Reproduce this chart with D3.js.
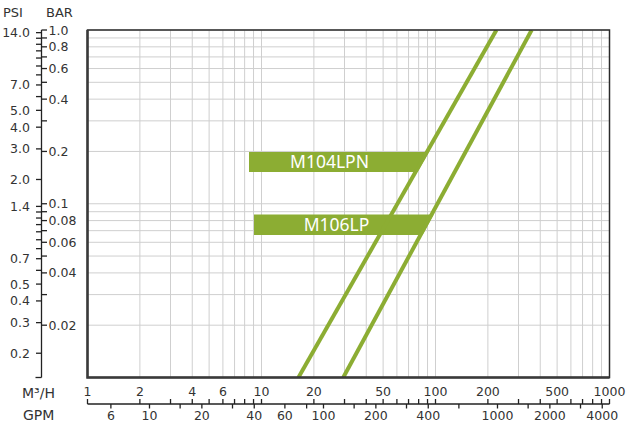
<!DOCTYPE html>
<html>
<head>
<meta charset="utf-8">
<script src="https://cdn.jsdelivr.net/npm/d3@7"></script>
<style>
    body { margin: 0; background: #fff; }
    text { font-family: 'DejaVu Sans', sans-serif; fill: #333; }
</style>
</head>
<body>
<script>
// Chart data
let m3hLabels = [1, 2, 4, 6, 10, 20, 50, 100, 200, 500, 1000];
let gpmTicks = [6, 10, 15, 20, 30, 40, 60, 80, 100, 150, 200, 300, 400, 600, 1000, 1500, 2000, 3000, 4000];
let gpmLabels = [6, 10, 20, 40, 60, 100, 200, 400, 1000, 2000, 4000];
let barLabels = [1.0, 0.8, 0.6, 0.4, 0.2, 0.1, 0.08, 0.06, 0.04, 0.02];
let psiTicks = [14, 13, 12, 11, 10, 9, 8, 7, 6, 5, 4, 3, 2, 1.4, 1.3, 1.2, 1.1, 1.0, 0.9, 0.8, 0.7, 0.6, 0.5, 0.4, 0.3, 0.2];
let psiLabels = [14.0, 7.0, 5.0, 4.0, 3.0, 2.0, 1.4, 0.7, 0.5, 0.4, 0.3, 0.2];

let models = ['M104LPN', 'M106LP'];
let flowM104LPN = [16.3, 224];   // m3/h
let barM104LPN = [0.01, 1.0];
let flowM106LP = [29.5, 357];
let barM106LP = [0.01, 1.0];

let GPM_PER_M3H = 4.403;
let PSI_PER_BAR = 14.5;

let green = '#8cad33';
let tickFont = '12.5px';

let width = 628, height = 423;
let plot = {left: 87.5, right: 609.5, top: 30, bottom: 377.5};

let svg = d3.select('body').append('svg')
    .attr('width', width)
    .attr('height', height);

let x = d3.scaleLog().domain([1, 1000]).range([plot.left, plot.right]);
let xGpm = d3.scaleLog().domain([GPM_PER_M3H, 1000 * GPM_PER_M3H]).range([plot.left, plot.right]);
let y = d3.scaleLog().domain([0.01, 1]).range([plot.bottom, plot.top]);
let yPsi = d3.scaleLog().domain([0.01 * PSI_PER_BAR, PSI_PER_BAR]).range([plot.bottom, plot.top]);

// 1..9 per decade
let decadeTicks = (lo, hi) => {
    let out = [];
    for (let d = lo; d < hi; d *= 10) {
        for (let k = 1; k < 10; k++) out.push(d * k);
    }
    out.push(hi);
    return out;
};
let xGrid = decadeTicks(1, 1000);
let yGrid = decadeTicks(0.01, 1);

// Grid
let grid = svg.append('g').attr('class', 'grid');
grid.selectAll('.vline').data(xGrid).enter().append('line')
    .attr('x1', d => x(d)).attr('x2', d => x(d))
    .attr('y1', plot.top).attr('y2', plot.bottom)
    .style('stroke', '#cfcfcf').style('stroke-width', 1);
grid.selectAll('.hline').data(yGrid).enter().append('line')
    .attr('x1', plot.left).attr('x2', plot.right)
    .attr('y1', d => y(d)).attr('y2', d => y(d))
    .style('stroke', '#cfcfcf').style('stroke-width', 1);

// Label boxes, right edge follows the curve
let series = [
    {name: models[0], flow: flowM104LPN, bar: barM104LPN, box: {left: 249, top: 152, bottom: 172}, tx: 329.5, ty: 168},
    {name: models[1], flow: flowM106LP, bar: barM106LP, box: {left: 254, top: 214.5, bottom: 235}, tx: 336.5, ty: 230.5}
];

let lineXAt = (s, py) => {
    let x0 = x(s.flow[0]), x1 = x(s.flow[1]);
    let y0 = y(s.bar[0]), y1 = y(s.bar[1]);
    return x0 + (x1 - x0) * (py - y0) / (y1 - y0) + 2;
};

series.forEach(s => {
    let b = s.box;
    svg.append('polygon')
        .attr('points', [
            [b.left, b.top], [lineXAt(s, b.top), b.top],
            [lineXAt(s, b.bottom), b.bottom], [b.left, b.bottom]
        ].map(p => p.join(',')).join(' '))
        .style('fill', green);
    svg.append('text')
        .attr('x', s.tx).attr('y', s.ty)
        .attr('text-anchor', 'middle')
        .style('font-family', "'Noto Sans', sans-serif")
        .style('font-size', '17.5px')
        .style('fill', '#fff')
        .text(s.name);
});

// Curves
svg.append('clipPath').attr('id', 'plot-clip')
    .append('rect')
    .attr('x', plot.left).attr('y', plot.top)
    .attr('width', plot.right - plot.left).attr('height', plot.bottom - plot.top);

let line = d3.line().x(d => x(d[0])).y(d => y(d[1]));
series.forEach(s => {
    svg.append('path')
        .datum(d3.zip(s.flow, s.bar))
        .attr('d', line)
        .attr('clip-path', 'url(#plot-clip)')
        .style('fill', 'none')
        .style('stroke', green)
        .style('stroke-width', 4);
});

// Frame
svg.append('rect')
    .attr('x', plot.left).attr('y', plot.top)
    .attr('width', plot.right - plot.left).attr('height', plot.bottom - plot.top)
    .style('fill', 'none').style('stroke', '#2a2a2a').style('stroke-width', 1.5);
svg.append('path')
    .attr('d', `M${plot.left},${plot.top}V${plot.bottom}H${plot.right}`)
    .style('fill', 'none').style('stroke', '#3a3a3a').style('stroke-width', 2.5);

// Left pressure axis
let axisX = 41.5;
let left = svg.append('g').style('stroke', '#222').style('stroke-width', 1.3);
left.append('line')
    .attr('x1', axisX).attr('x2', axisX)
    .attr('y1', plot.top).attr('y2', plot.bottom);
left.append('line')
    .attr('x1', axisX - 6).attr('x2', axisX)
    .attr('y1', plot.bottom).attr('y2', plot.bottom);
left.selectAll('.bar-tick').data(yGrid.filter(d => d >= 0.02)).enter().append('line')
    .attr('x1', axisX).attr('x2', axisX + 5.5)
    .attr('y1', d => y(d)).attr('y2', d => y(d));
left.selectAll('.psi-tick').data(psiTicks).enter().append('line')
    .attr('x1', axisX - 5.5).attr('x2', axisX)
    .attr('y1', d => yPsi(d)).attr('y2', d => yPsi(d));

svg.selectAll('.bar-label').data(barLabels).enter().append('text')
    .attr('x', axisX + 7).attr('y', d => y(d))
    .attr('dy', '0.36em')
    .style('font-size', tickFont)
    .text(d => d >= 1 ? d.toFixed(1) : String(d));
svg.selectAll('.psi-label').data(psiLabels).enter().append('text')
    .attr('x', 30).attr('y', d => yPsi(d))
    .attr('dy', '0.36em')
    .attr('text-anchor', 'end')
    .style('font-size', tickFont)
    .text(d => d.toFixed(1));

svg.append('text').attr('x', 3).attr('y', 17).style('font-size', '13px').text('PSI');
svg.append('text').attr('x', 46).attr('y', 17).style('font-size', '13px').text('BAR');

// Bottom flow axis
let axisY = 404;
let bottom = svg.append('g').style('stroke', '#222').style('stroke-width', 1.3);
bottom.append('line')
    .attr('x1', plot.left).attr('x2', plot.right)
    .attr('y1', axisY).attr('y2', axisY);
bottom.selectAll('.m3-tick').data(xGrid).enter().append('line')
    .attr('x1', d => x(d)).attr('x2', d => x(d))
    .attr('y1', axisY - 5).attr('y2', axisY);
bottom.selectAll('.gpm-tick').data(gpmTicks).enter().append('line')
    .attr('x1', d => xGpm(d)).attr('x2', d => xGpm(d))
    .attr('y1', axisY).attr('y2', axisY + 4.5);

svg.selectAll('.m3-label').data(m3hLabels).enter().append('text')
    .attr('x', d => x(d)).attr('y', 396)
    .attr('text-anchor', 'middle')
    .style('font-size', tickFont)
    .text(d => d);
svg.selectAll('.gpm-label').data(gpmLabels).enter().append('text')
    .attr('x', d => xGpm(d)).attr('y', 419.5)
    .attr('text-anchor', 'middle')
    .style('font-size', tickFont)
    .text(d => d);

svg.append('text').attr('x', 22).attr('y', 397.5).style('font-size', '14px').text('M³/H');
svg.append('text').attr('x', 23).attr('y', 419.5).style('font-size', '14px').text('GPM');
</script>
</body>
</html>
